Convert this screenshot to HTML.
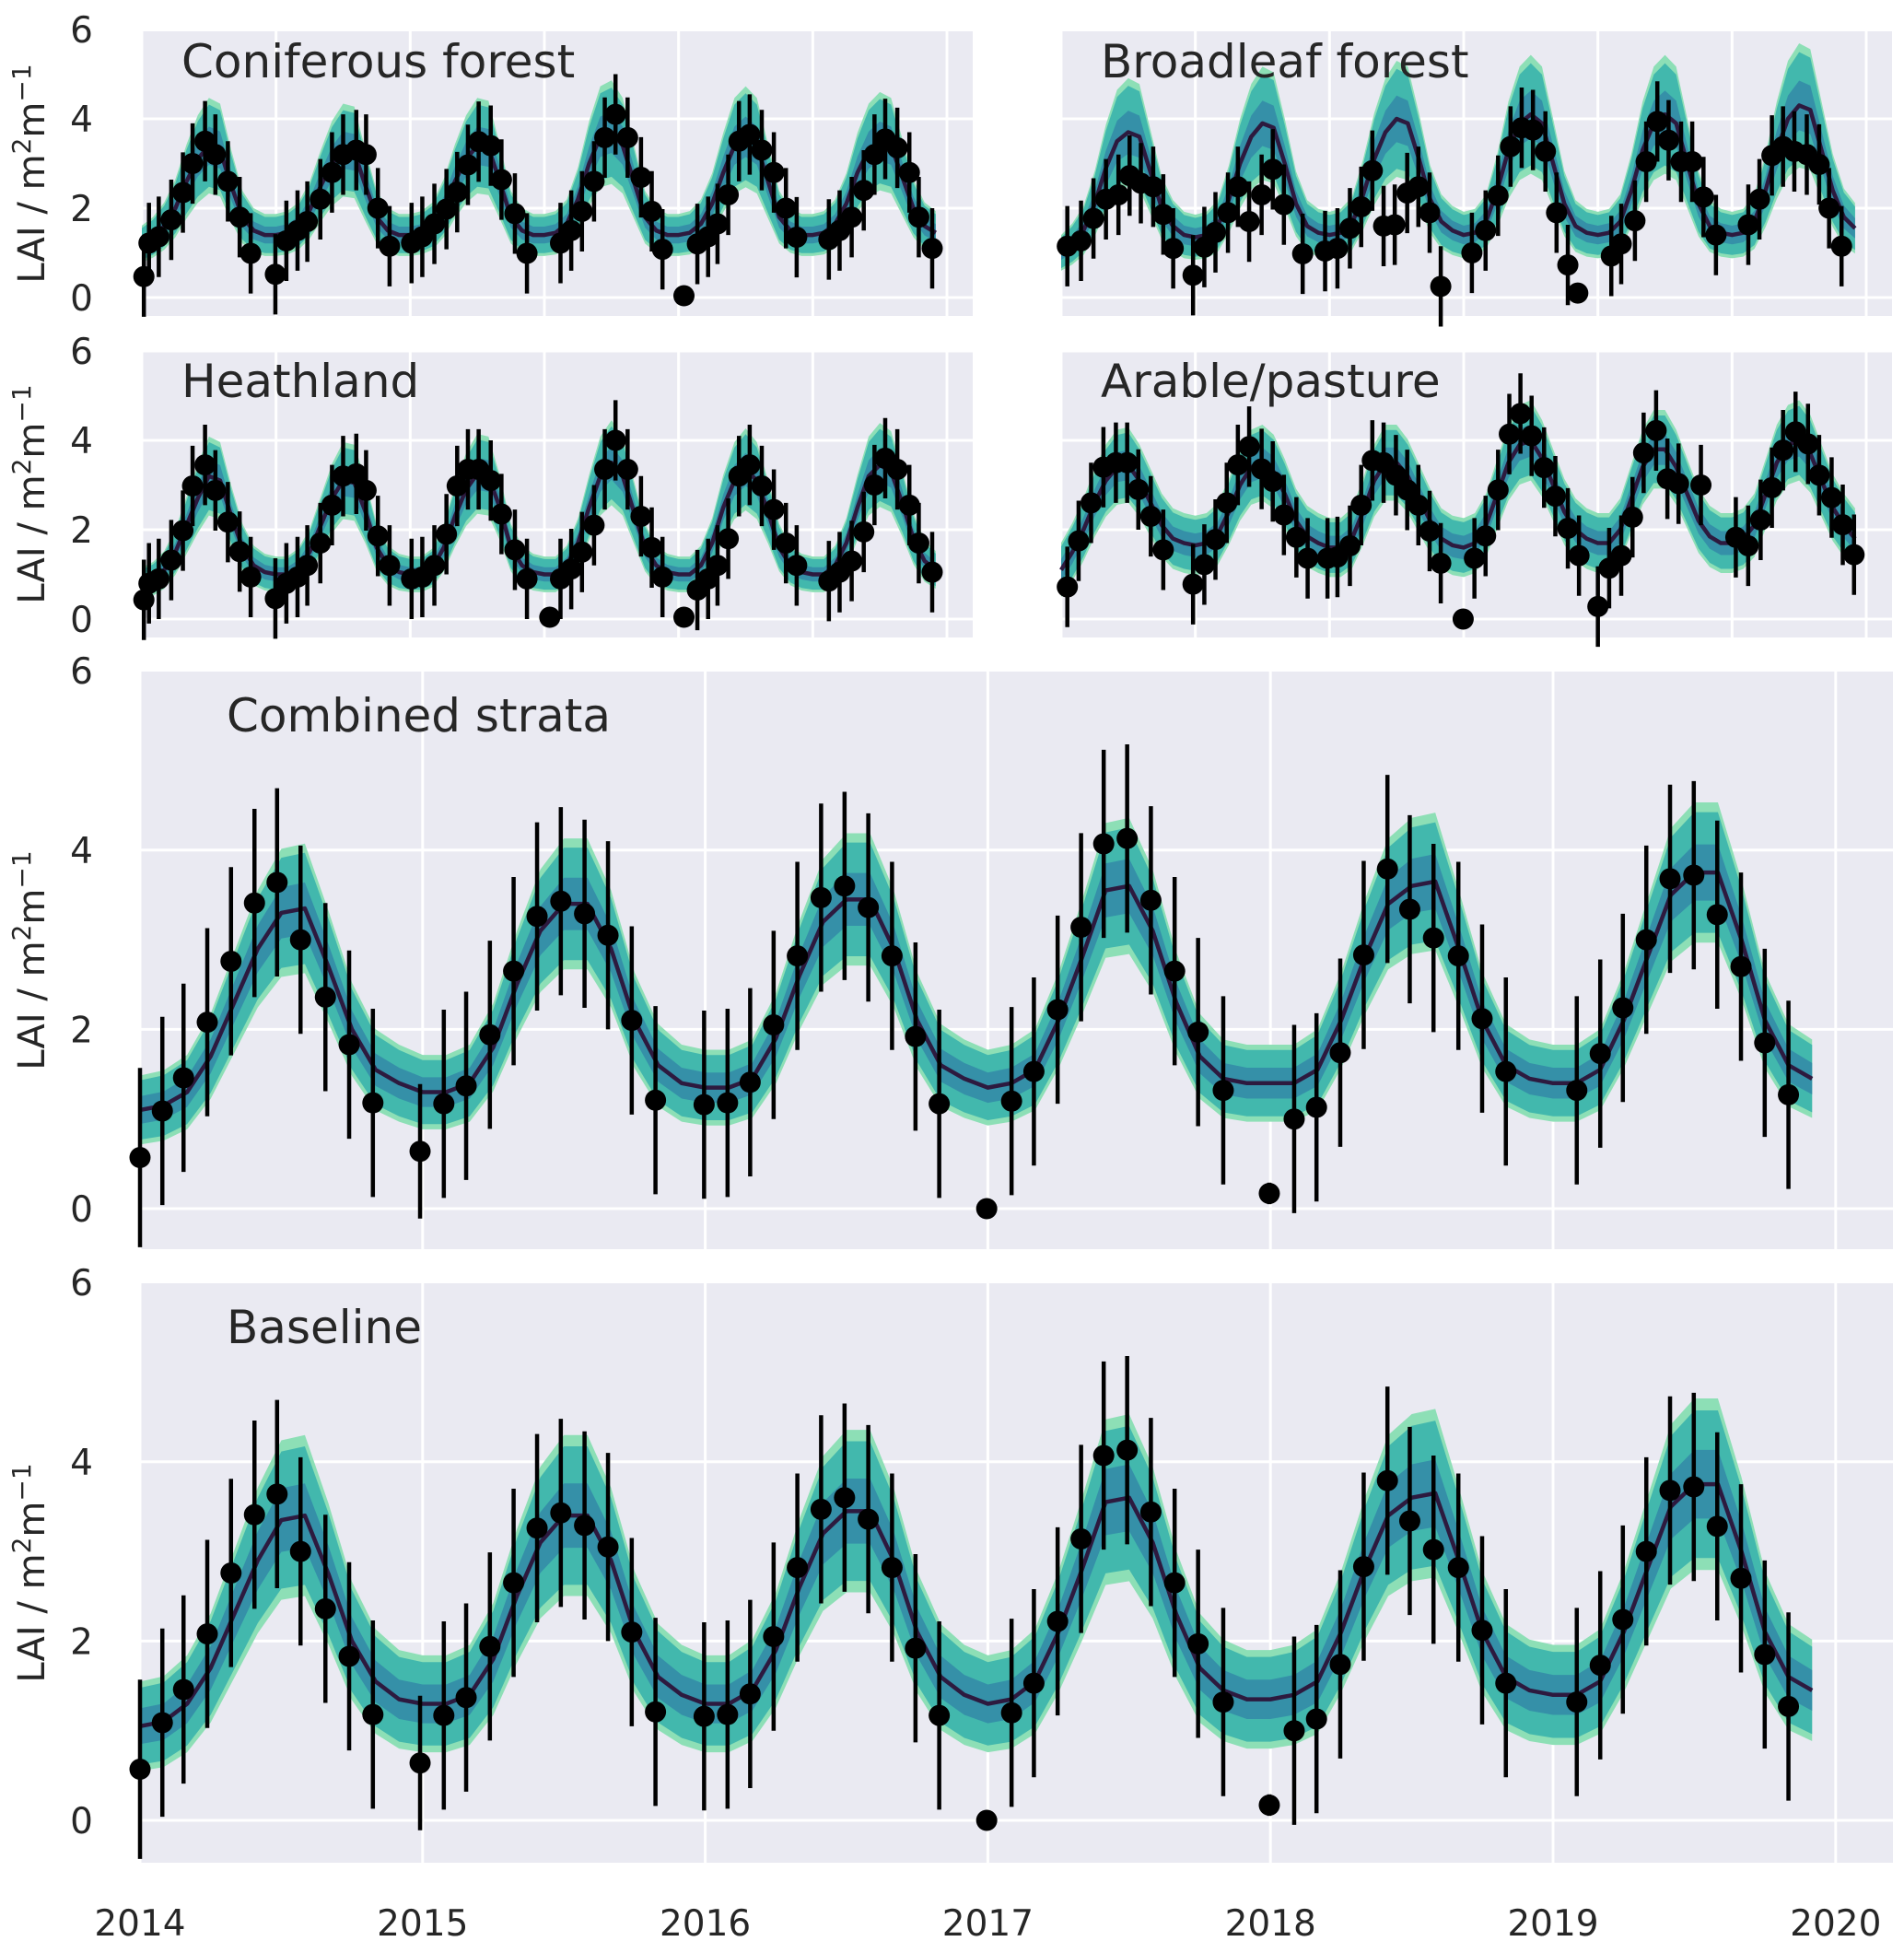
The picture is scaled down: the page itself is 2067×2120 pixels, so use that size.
<!DOCTYPE html>
<html><head><meta charset="utf-8"><style>
html,body{margin:0;padding:0;background:#fff;}
svg{display:block;font-family:"DejaVu Sans","Liberation Sans",sans-serif;}
</style></head><body>
<svg id="fig" width="2067" height="2120" viewBox="0 0 2067 2120" xmlns="http://www.w3.org/2000/svg"></svg>
<script>
// ---------------- DATA ----------------
const yearTicks = [2014, 2015, 2016, 2017, 2018, 2019, 2020];
const yTicks = [0, 2, 4, 6];

// model means, monthly from 2014.0 (t = k/12)
const coniferModel = [1.2,1.35,1.6,2.0,2.6,3.1,3.4,3.3,2.5,1.8,1.5,1.4, 1.4,1.45,1.6,1.95,2.5,3.0,3.3,3.25,2.5,1.8,1.5,1.4, 1.4,1.45,1.6,2.0,2.6,3.1,3.4,3.35,2.6,1.8,1.5,1.4, 1.4,1.45,1.65,2.2,3.0,3.6,3.7,3.4,2.6,1.8,1.5,1.4, 1.4,1.45,1.65,2.1,2.8,3.4,3.6,3.4,2.6,1.8,1.5,1.4, 1.4,1.45,1.65,2.1,2.8,3.3,3.5,3.4,2.7,2.0,1.6,1.45];
const broadModel = [1.0,1.2,1.5,2.1,2.9,3.5,3.7,3.6,2.8,2.0,1.6,1.4, 1.35,1.4,1.6,2.2,3.0,3.6,3.9,3.8,3.0,2.1,1.6,1.45, 1.4,1.45,1.65,2.3,3.1,3.7,4.0,3.9,3.1,2.2,1.7,1.5, 1.4,1.45,1.7,2.4,3.3,3.9,4.1,3.9,3.0,2.1,1.6,1.45, 1.4,1.45,1.7,2.4,3.3,3.9,4.1,3.9,3.0,2.1,1.6,1.45, 1.4,1.45,1.7,2.4,3.3,4.0,4.3,4.2,3.3,2.4,1.8,1.55];
const heathModel = [0.8,0.9,1.1,1.5,2.1,2.7,3.2,3.1,2.3,1.6,1.2,1.05, 1.0,1.0,1.15,1.5,2.1,2.7,3.1,3.05,2.4,1.6,1.2,1.05, 1.0,1.0,1.15,1.6,2.3,2.9,3.25,3.2,2.5,1.6,1.2,1.05, 1.0,1.0,1.2,1.7,2.5,3.2,3.5,3.2,2.4,1.6,1.2,1.05, 1.0,1.0,1.2,1.7,2.5,3.1,3.35,3.1,2.4,1.6,1.2,1.05, 1.0,1.0,1.2,1.7,2.5,3.2,3.45,3.3,2.6,1.8,1.3,1.1];
const arableModel = [1.1,1.5,2.0,2.6,3.1,3.4,3.45,3.1,2.6,2.1,1.8,1.7, 1.65,1.7,1.9,2.4,3.0,3.4,3.5,3.3,2.8,2.2,1.85,1.7, 1.6,1.6,1.8,2.4,3.1,3.5,3.5,3.2,2.7,2.2,1.8,1.65, 1.6,1.7,2.1,2.8,3.5,3.9,4.0,3.6,3.0,2.4,2.0,1.8, 1.7,1.7,2.0,2.7,3.4,3.8,3.8,3.4,2.8,2.2,1.85,1.7, 1.7,1.8,2.1,2.8,3.5,3.9,4.0,3.7,3.1,2.5,2.1,1.8];
const combinedModel = [1.1,1.15,1.3,1.7,2.3,2.9,3.3,3.35,2.7,2.0,1.55,1.4, 1.3,1.3,1.4,1.8,2.5,3.1,3.4,3.4,2.9,2.1,1.6,1.4, 1.35,1.35,1.45,1.9,2.6,3.2,3.45,3.45,2.9,2.1,1.6,1.45, 1.35,1.4,1.55,2.1,2.8,3.55,3.6,3.1,2.3,1.7,1.45,1.4, 1.4,1.4,1.55,2.1,2.8,3.4,3.6,3.65,2.9,2.1,1.6,1.45, 1.4,1.4,1.55,2.1,2.8,3.5,3.75,3.75,3.0,2.1,1.6,1.45];
const baselineModel = [1.05,1.1,1.3,1.7,2.3,2.9,3.35,3.4,2.75,2.0,1.55,1.35, 1.3,1.3,1.4,1.8,2.5,3.1,3.4,3.4,2.9,2.1,1.6,1.4, 1.3,1.3,1.45,1.9,2.6,3.2,3.45,3.45,2.9,2.1,1.6,1.4, 1.3,1.35,1.55,2.1,2.8,3.55,3.6,3.1,2.3,1.7,1.45,1.35, 1.35,1.4,1.55,2.1,2.8,3.4,3.6,3.65,2.9,2.1,1.6,1.45, 1.4,1.4,1.55,2.1,2.8,3.5,3.75,3.75,3.0,2.1,1.6,1.45];

// observations: times (years since 2014) and values
const coniferT = [0.015,0.053,0.126,0.219,0.306,0.378,0.471,0.548,0.641,0.729,0.811, 0.995,1.077,1.16,1.233,1.33,1.417,1.5,1.598,1.671,1.759,1.846, 2.01,2.09,2.18,2.27,2.35,2.43,2.51,2.6,2.68,2.78,2.87, 3.12,3.2,3.28,3.37,3.45,3.53,3.62,3.72,3.8,3.88,4.04, 4.14,4.22,4.29,4.37,4.45,4.53,4.62,4.71,4.8,4.88, 5.12,5.2,5.29,5.38,5.46,5.54,5.63,5.72,5.79,5.89];
const coniferV = [0.47,1.22,1.36,1.74,2.35,3.0,3.5,3.2,2.6,1.8,0.99, 0.52,1.27,1.5,1.7,2.2,2.8,3.2,3.3,3.2,2.0,1.15, 1.22,1.36,1.65,1.98,2.36,2.97,3.49,3.4,2.64,1.88,0.99, 1.22,1.5,1.93,2.6,3.58,4.1,3.58,2.69,1.93,1.08,0.04, 1.2,1.36,1.65,2.3,3.5,3.65,3.3,2.8,2.0,1.35, 1.3,1.5,1.8,2.4,3.2,3.55,3.35,2.8,1.8,1.1];
const heathT = [0.015,0.053,0.126,0.219,0.306,0.378,0.471,0.548,0.641,0.729,0.811, 0.995,1.077,1.16,1.233,1.33,1.417,1.5,1.598,1.671,1.759,1.846, 2.01,2.09,2.18,2.27,2.35,2.43,2.51,2.6,2.68,2.78,2.87, 3.04,3.12,3.2,3.28,3.37,3.45,3.53,3.62,3.72,3.8,3.88,4.04, 4.14,4.22,4.29,4.37,4.45,4.53,4.62,4.71,4.8,4.88, 5.12,5.2,5.29,5.38,5.46,5.54,5.63,5.72,5.79,5.89];
const heathV = [0.43,0.8,0.9,1.32,1.98,2.98,3.45,2.88,2.17,1.51,0.94, 0.46,0.8,0.94,1.2,1.7,2.55,3.2,3.25,2.88,1.86,1.2, 0.9,0.94,1.2,1.9,2.98,3.35,3.35,3.1,2.35,1.55,0.9, 0.04,0.9,1.12,1.5,2.1,3.35,4.0,3.35,2.3,1.6,0.94,0.04, 0.65,0.9,1.2,1.8,3.2,3.45,2.98,2.45,1.7,1.2, 0.85,1.05,1.3,1.95,3.0,3.6,3.35,2.55,1.7,1.05];
const broadT = [0.046,0.148,0.241,0.334,0.427,0.51,0.594,0.686,0.761,0.835, 0.983,1.067,1.15,1.243,1.317,1.401,1.494,1.577,1.66,1.8, 1.967,2.059,2.152,2.236,2.319,2.403,2.486,2.579,2.662,2.746,2.829, 3.061,3.163,3.256,3.349,3.432,3.516,3.609,3.692,3.776,3.85, 4.1,4.174,4.276,4.36,4.443,4.527,4.62,4.703,4.787,4.88, 5.121,5.204,5.297,5.38,5.464,5.557,5.649,5.723,5.816];
const broadV = [1.15,1.27,1.77,2.2,2.3,2.73,2.56,2.48,1.86,1.1, 0.5,1.13,1.46,1.9,2.48,1.7,2.3,2.87,2.08,0.98, 1.04,1.1,1.55,2.03,2.84,1.6,1.63,2.34,2.48,1.9,0.25, 1.0,1.5,2.28,3.38,3.8,3.75,3.27,1.9,0.73,0.1, 0.93,1.2,1.72,3.04,3.94,3.52,3.04,3.04,2.25,1.4, 1.63,2.2,3.18,3.38,3.27,3.2,2.98,2.0,1.15];
const arableT = [0.046,0.13,0.223,0.315,0.408,0.492,0.575,0.668,0.761, 0.983,1.067,1.15,1.234,1.317,1.401,1.494,1.577,1.66,1.753,1.837, 1.985,2.059,2.152,2.236,2.319,2.403,2.495,2.579,2.662,2.746,2.829, 2.996,3.08,3.163,3.256,3.34,3.423,3.506,3.599,3.683,3.776,3.859, 4.0,4.084,4.174,4.258,4.341,4.434,4.518,4.601,4.768, 5.028,5.12,5.213,5.297,5.38,5.473,5.566,5.649,5.742,5.825,5.909];
const arableV = [0.72,1.75,2.6,3.4,3.5,3.5,2.9,2.3,1.55, 0.78,1.22,1.78,2.6,3.45,3.86,3.36,3.08,2.33,1.83,1.36, 1.36,1.39,1.64,2.55,3.55,3.5,3.22,2.89,2.55,1.97,1.25, 0.0,1.36,1.86,2.89,4.14,4.6,4.1,3.39,2.75,2.03,1.42, 0.28,1.14,1.42,2.28,3.72,4.22,3.14,3.03,3.0, 1.83,1.64,2.22,2.94,3.78,4.19,3.92,3.22,2.72,2.11,1.44];
const combinedT = [0,0.079,0.154,0.238,0.322,0.405,0.485,0.568,0.656,0.74,0.824, 0.991,1.075,1.154,1.238,1.322,1.405,1.489,1.573,1.656,1.74,1.824, 1.996,2.079,2.159,2.242,2.326,2.41,2.493,2.577,2.661,2.744,2.828, 2.996,3.084,3.163,3.247,3.33,3.41,3.493,3.577,3.661,3.744,3.833, 3.996,4.084,4.163,4.247,4.33,4.414,4.493,4.577,4.665,4.749,4.833, 5.084,5.167,5.247,5.33,5.414,5.498,5.581,5.665,5.749,5.833];
const combinedV = [0.57,1.09,1.46,2.08,2.76,3.41,3.64,3.0,2.36,1.83,1.18, 0.64,1.17,1.37,1.94,2.65,3.26,3.43,3.29,3.05,2.1,1.21, 1.16,1.18,1.41,2.05,2.82,3.47,3.6,3.36,2.82,1.92,1.17, 0.0,1.2,1.53,2.22,3.14,4.07,4.13,3.44,2.65,1.97,1.32, 0.17,1.0,1.13,1.74,2.83,3.79,3.34,3.02,2.82,2.12,1.53, 1.32,1.73,2.24,3.0,3.68,3.72,3.28,2.7,1.85,1.27];
const combinedErr = [1.0,1.05,1.05,1.05,1.05,1.05,1.05,1.05,1.05,1.05,1.05, 0.75,1.05,1.05,1.05,1.05,1.05,1.05,1.05,1.05,1.05,1.05, 1.05,1.05,1.05,1.05,1.05,1.05,1.05,1.05,1.05,1.05,1.05, 0.0,1.05,1.05,1.05,1.05,1.05,1.05,1.05,1.05,1.05,1.05, 0.12,1.05,1.05,1.05,1.05,1.05,1.05,1.05,1.05,1.05,1.05, 1.05,1.05,1.05,1.05,1.05,1.05,1.05,1.05,1.05,1.05];
const smallErr = [0.9, 0.9, 0.9, 0.9]; // coniferous, broadleaf, heathland, arable half-widths

// ---------------- LAYOUT ----------------
const NS = "http://www.w3.org/2000/svg";
const svg = document.getElementById("fig");
function mk(tag, attrs, parent) {
  const e = document.createElementNS(NS, tag);
  for (const k in attrs) e.setAttribute(k, attrs[k]);
  (parent || svg).appendChild(e);
  return e;
}
const panels = [
  {key:"coniferous", title:"Coniferous forest", x0:154, x1:1056, xYr:145.67, top:34, bot:343, y0:323, yU:48.5, model:coniferModel, T:coniferT, V:coniferV, err:null, e:smallErr[0], c0:0.05, c1:0.3, tx:197, ty:84, yl:true, xl:false},
  {key:"broadleaf", title:"Broadleaf forest", x0:1152, x1:2054, xYr:145.67, top:34, bot:343, y0:323, yU:48.5, model:broadModel, T:broadT, V:broadV, err:null, e:smallErr[1], c0:0.1, c1:0.3, tx:1195, ty:84, yl:false, xl:false},
  {key:"heathland", title:"Heathland", x0:154, x1:1056, xYr:145.67, top:381, bot:692, y0:672, yU:48.5, model:heathModel, T:heathT, V:heathV, err:null, e:smallErr[2], c0:0.18, c1:0.22, tx:197, ty:431, yl:true, xl:false},
  {key:"arable", title:"Arable/pasture", x0:1152, x1:2054, xYr:145.67, top:381, bot:692, y0:672, yU:48.5, model:arableModel, T:arableT, V:arableV, err:null, e:smallErr[3], c0:0.5, c1:0.1, tx:1195, ty:431, yl:false, xl:false},
  {key:"combined", title:"Combined strata", x0:152, x1:2055, xYr:306.8, top:729, bot:1356, y0:1312, yU:97.3, model:combinedModel, T:combinedT, V:combinedV, err:combinedErr, e:1, c0:0.22, c1:0.15, tx:246, ty:794, yl:true, xl:false},
  {key:"baseline", title:"Baseline", x0:152, x1:2055, xYr:306.8, top:1393, bot:2022, y0:1976, yU:97.3, model:baselineModel, T:combinedT, V:combinedV, err:combinedErr, e:1, c0:0.32, c1:0.17, tx:246, ty:1458, yl:true, xl:true}
];
const layers = [[1.0,"#8ddfb6"],[0.86,"#42b8ad"],[0.4,"#3590a8"]];

panels.forEach(p => {
  const g = mk("g", {});
  
  
  const X = t => p.x0 + t * p.xYr;
  const Y = v => p.y0 - v * p.yU;
  const bg = mk("rect", {x:p.x0, y:p.top, width:p.x1-p.x0, height:p.bot-p.top, fill:"#eaeaf2"}, g);
  
  
  yearTicks.forEach((yr, i) => {
    const gx = X(yr - 2014);
    const l = mk("line", {x1:gx, x2:gx, y1:p.top, y2:p.bot, stroke:"#fff", "stroke-width":3}, g);
    
    
    if (p.xl) {
      const tl = mk("text", {x:gx, y:2101, "font-size":39, "text-anchor":"middle", fill:"#262626"}, g);
      
      
      tl.textContent = yr;
    }
  });
  yTicks.forEach(v => {
    const gy = Y(v);
    if (gy >= p.top) {
      const l = mk("line", {x1:p.x0, x2:p.x1, y1:gy, y2:gy, stroke:"#fff", "stroke-width":3}, g);
      
      
    }
    if (p.yl) {
      const tl = mk("text", {x:101, y:gy + 14, "font-size":39, "text-anchor":"end", fill:"#262626"}, g);
      
      
      tl.textContent = v;
    }
  });
  if (p.yl) {
    const cy = (p.top + p.bot) / 2;
    const yt = mk("text", {x:0, y:0, "font-size":40, "text-anchor":"middle", fill:"#262626", transform:`translate(48,${cy}) rotate(-90)`}, g);
    
    
    yt.innerHTML = 'LAI / m<tspan dy="-15" font-size="28">2</tspan><tspan dy="15">m</tspan><tspan dy="-15" font-size="28">−1</tspan>';
  }
  // bands
  const tm = p.model.map((v, k) => k / 12);
  layers.forEach(([f, col], li) => {
    const up = p.model.map((v, k) => X(tm[k]) + "," + Y(v + f * (p.c0 + p.c1 * v)));
    const lo = p.model.map((v, k) => X(tm[k]) + "," + Y(v - f * (p.c0 + p.c1 * v))).reverse();
    const poly = mk("polygon", {points: up.concat(lo).join(" "), fill: col}, g);
    
    
  });
  const line = mk("polyline", {points: p.model.map((v, k) => X(tm[k]) + "," + Y(v)).join(" "), fill:"none", stroke:"#2d1a3f", "stroke-width":4.5, "stroke-linejoin":"round"}, g);
  
  
  // observations
  p.V.forEach((v, i) => {
    const x = X(p.T[i]);
    const e = p.err ? p.err[i] : (v < 0.15 ? 0 : p.e);
    if (e > 0) {
      const b = mk("line", {x1:x, x2:x, y1:Y(v + e), y2:Y(v - e), stroke:"#000", "stroke-width":4.5}, g);
      
      
    }
    const c = mk("circle", {cx:x, cy:Y(v), r:11.5, fill:"#000"}, g);
    
    
  });
  const ttl = mk("text", {x:p.tx, y:p.ty, "font-size":50, fill:"#262626"}, g);
  
  
  ttl.textContent = p.title;
});
</script>
</body></html>
